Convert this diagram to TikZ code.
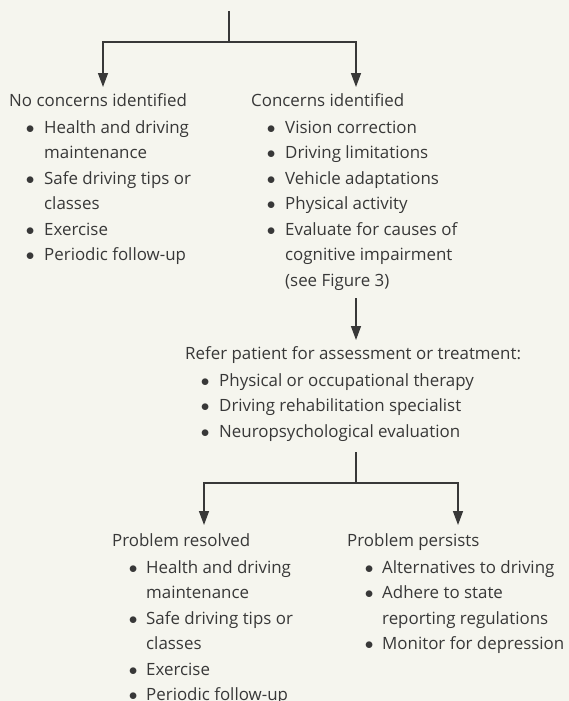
\documentclass[tikz,border=0pt]{standalone}
\usepackage{fontspec}
\setmainfont{Open Sans}
\usetikzlibrary{arrows.meta,positioning,calc}
\definecolor{paper}{HTML}{F5F5EE}
\definecolor{ink}{HTML}{383838}
\newcommand{\txtfont}{\fontsize{16.9}{25.5}\selectfont}
\newcommand{\bl}{$\bullet$}
\tikzset{
  head/.style={anchor=base west, inner sep=0pt, text=ink, font=\txtfont},
  blist/.style={anchor=base west, inner sep=0pt, text=ink, font=\txtfont},
  bar/.style={draw=ink, line width=1.4pt},
  flow/.style={bar, -{Triangle[length=14pt,width=10pt]}}
}
\begin{document}
\begin{tikzpicture}[x=1pt, y=-1pt]
  \fill[paper] (0,0) rectangle (569,701);
  \useasboundingbox (0,0) rectangle (569,701);

  % first level
  \node[head] (noc) at (9,106) {No concerns identified};
  \node[head] (conc) at (251,106) {Concerns identified};
  \node[blist] (nbul) at (25.75,133) {\begin{tabular}[t]{@{}p{18.25pt}@{}l@{}}
    \bl & Health and driving\\
        & maintenance\\
    \bl & Safe driving tips or\\
        & classes\\
    \bl & Exercise\\
    \bl & Periodic follow-up
  \end{tabular}};
  \node[blist] (cbul) at (266.75,133) {\begin{tabular}[t]{@{}p{18.25pt}@{}l@{}}
    \bl & Vision correction\\
    \bl & Driving limitations\\
    \bl & Vehicle adaptations\\
    \bl & Physical activity\\
    \bl & Evaluate for causes of\\
        & cognitive impairment\\
        & (see Figure 3)
  \end{tabular}};

  % referral
  \node[head] (refer) at (185,359) {Refer patient for assessment or treatment:};
  \node[blist] (rbul) at (200.75,386) {\begin{tabular}[t]{@{}p{18.25pt}@{}l@{}}
    \bl & Physical or occupational therapy\\
    \bl & Driving rehabilitation specialist\\
    \bl & Neuropsychological evaluation
  \end{tabular}};

  % outcome
  \node[head] (res) at (112,546) {Problem resolved};
  \node[head] (pers) at (347,546) {Problem persists};
  \node[blist] (resbul) at (128.75,573) {\begin{tabular}[t]{@{}p{17.25pt}@{}l@{}}
    \bl & Health and driving\\
        & maintenance\\
    \bl & Safe driving tips or\\
        & classes\\
    \bl & Exercise\\
    \bl & Periodic follow-up
  \end{tabular}};
  \node[blist] (persbul) at (364.75,573) {\begin{tabular}[t]{@{}p{17.25pt}@{}l@{}}
    \bl & Alternatives to driving\\
    \bl & Adhere to state\\
        & reporting regulations\\
    \bl & Monitor for depression
  \end{tabular}};

  % connectors
  \coordinate (top) at (229,11);
  \coordinate (split) at (229,42);
  \coordinate (nocin) at (103,87);
  \coordinate (concin) at (356,87);
  \draw[bar] (top) -- (split);
  \draw[flow] (split) -| (nocin);
  \draw[flow] (split) -| (concin);

  \coordinate (cout) at (356,298);
  \coordinate (refin) at (356,340);
  \draw[flow] (cout) -- (refin);

  \coordinate (rout) at (356,452);
  \coordinate (split2) at (356,483);
  \coordinate (resin) at (204,525);
  \coordinate (persin) at (458,525);
  \draw[bar] (rout) -- (split2);
  \draw[flow] (split2) -| (resin);
  \draw[flow] (split2) -| (persin);
\end{tikzpicture}
\end{document}
